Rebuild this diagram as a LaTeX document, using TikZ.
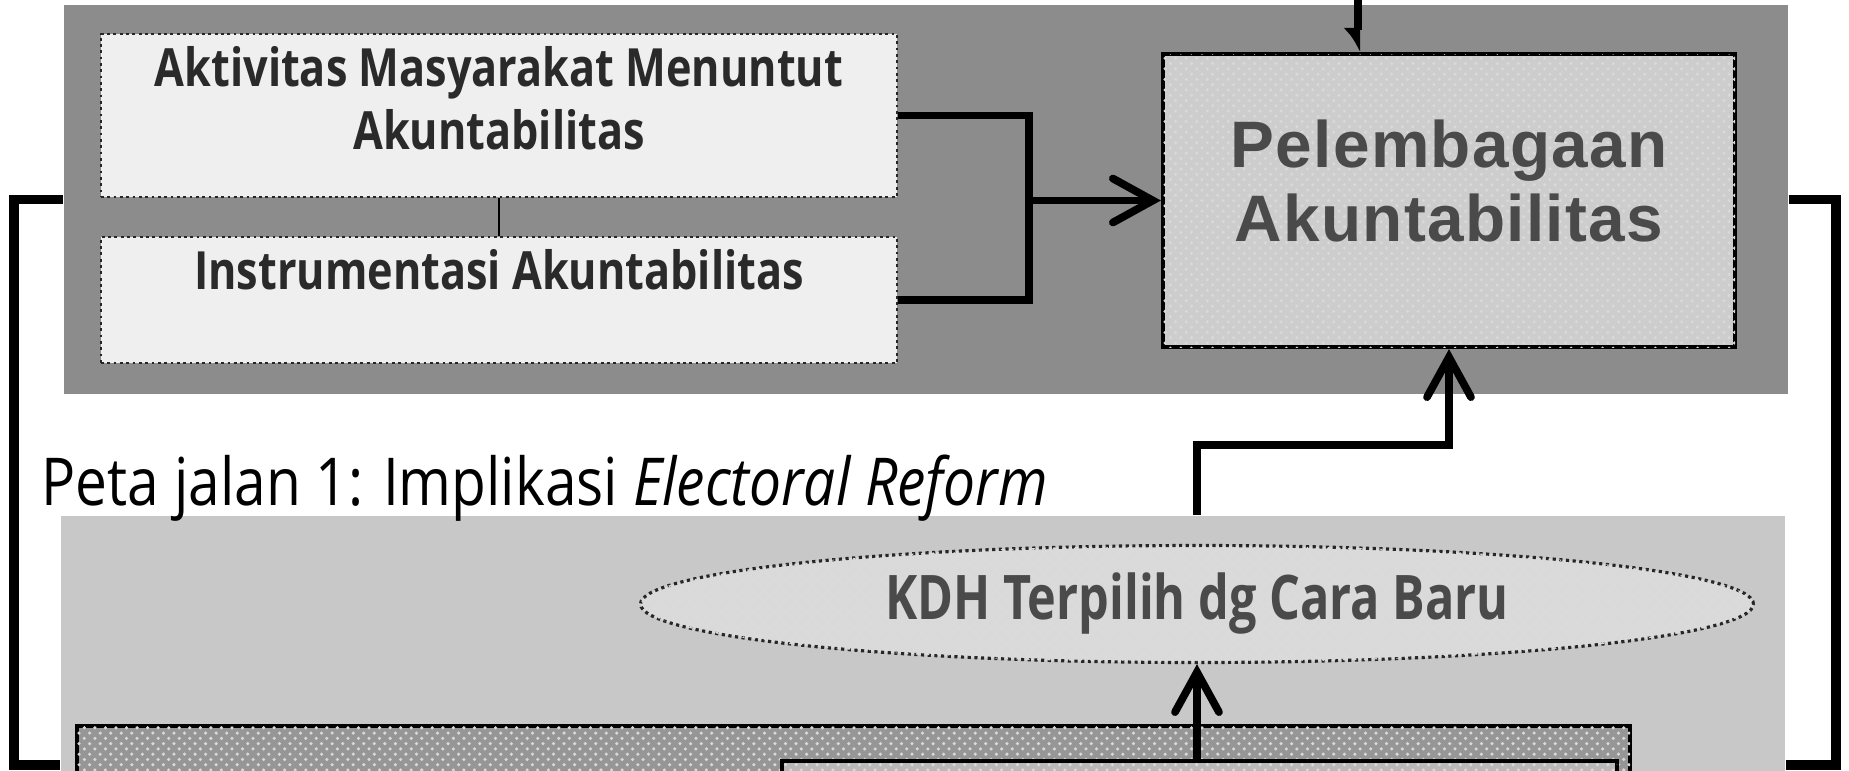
\documentclass[tikz,border=0pt]{standalone}
\usepackage{fontspec}
\setmainfont{Open Sans}
\newfontfamily\condfont[FakeStretch=0.82]{Open Sans}
\newfontfamily\kdhfont[FakeStretch=0.79]{Open Sans}
\newfontfamily\titlefont[FakeStretch=0.86]{Open Sans}
\newfontfamily\arialfont[LetterSpace=2]{Liberation Sans}
\usetikzlibrary{arrows.meta, positioning, shapes.geometric, patterns}
\definecolor{panelDark}{RGB}{140,140,140}
\definecolor{panelLight}{RGB}{200,200,200}
\definecolor{boxLight}{RGB}{239,239,239}
\definecolor{pelFill}{RGB}{205,205,205}
\definecolor{kdhFill}{RGB}{218,218,218}
\definecolor{baseDark}{RGB}{150,150,150}
\definecolor{baseMid}{RGB}{185,185,185}
\definecolor{textDark}{RGB}{42,42,42}
\definecolor{textGray}{RGB}{74,74,74}
\tikzset{
    panel/.style={rectangle, draw=none, inner sep=0pt},
    itembox/.style={rectangle, draw=black!85, densely dotted, line width=0.8pt,
                    fill=boxLight, minimum width=7.96cm, inner sep=0pt},
    itemtext/.style={font=\condfont\bfseries\fontsize{15}{17.9}\selectfont,
                     text=textDark, align=center, inner sep=0pt},
    dotted fill/.style={postaction={pattern=crosshatch dots, pattern color=white!85!black}},
    pelbox/.style={rectangle, draw=black, line width=1.2pt, fill=pelFill, dotted fill,
                   minimum width=5.72cm, minimum height=2.93cm, inner sep=0pt},
    peltext/.style={font=\arialfont\bfseries\fontsize{18.7}{21}\selectfont,
                    text=textGray, align=center, inner sep=0pt},
    kdhnode/.style={ellipse, draw=black!85, densely dotted, line width=0.9pt,
                    fill=kdhFill, dotted fill, minimum width=11.13cm, minimum height=1.17cm,
                    inner sep=0pt, font=\kdhfont\bfseries\fontsize{17.5}{20}\selectfont,
                    text=textGray},
    basebox/.style={rectangle, draw=black, line width=1.4pt, inner sep=0pt, dotted fill},
    flow/.style={-{Straight Barb[length=4mm, width=4.4mm, line cap=round]}, line width=2.2pt, black},
    joint/.style={line width=2.2pt, black},
    loopline/.style={line width=2.8pt, black},
    topin/.style={-{Latex[harpoon, swap, length=2mm, width=3mm]}, line width=2.5pt, black}
}
\begin{document}
\begin{tikzpicture}[x=1cm, y=1cm]
    \useasboundingbox (0,0) rectangle (18.49,-7.70);
    \clip (0,0) rectangle (18.49,-7.70);
    \node[panel, fill=panelDark, minimum width=17.24cm, minimum height=3.89cm] (panelTop) at (9.26,-1.995) {};
    \node[panel, fill=panelLight, minimum width=17.24cm, minimum height=3.84cm] (panelLow) at (9.23,-7.08) {};
    \coordinate (loopL) at (0.14,-7.65);
    \coordinate (loopR) at (18.36,-7.65);
    \draw[loopline] (panelTop.west) -| (loopL) -- (panelLow.west |- loopL);
    \draw[loopline] (panelTop.east) -| (loopR) -- (panelLow.east |- loopR);

    \node[itembox, minimum height=1.63cm] (boxA) at (4.99,-1.155) {};
    \node[itembox, minimum height=1.26cm] (boxB) at (4.99,-3.0) {};
    \node[itemtext] (txtA) at (4.99,-0.985) {Aktivitas Masyarakat Menuntut\\Akuntabilitas};
    \node[itemtext] (txtB) at (4.99,-2.70) {Instrumentasi Akuntabilitas};
    \draw[line width=0.7pt] (boxA.south) -- (boxB.north);

    \node[pelbox] (pel) at (14.49,-2.005) {};
    \node[peltext] (pelTxt) at (14.49,-1.81) {Pelembagaan\\Akuntabilitas};
    \coordinate (join) at (10.29,-2.005);
    \draw[joint] (boxA.east) -| (join) |- (boxB.east);
    \draw[flow] (join) -- (pel.west);
    \coordinate (fromTop) at (13.58,0.1);
    \draw[topin] (fromTop) -- (fromTop |- pel.north);

    \node[anchor=base west, inner sep=0pt, font=\titlefont\fontsize{18.8}{22}\selectfont] (title) at (0.41,-5.05)
        {Peta jalan 1: Implikasi \textit{Electoral Reform}};
    \node[kdhnode] (kdh) at (11.97,-6.04) {KDH Terpilih dg Cara Baru};
    \draw[flow] (kdh |- panelLow.north) -- ++(0,0.70) -| (pel.south);

    \node[basebox, fill=baseDark, minimum width=15.53cm, minimum height=1.74cm] (base1) at (8.535,-8.13) {};
    \node[basebox, fill=baseMid, minimum width=8.35cm, minimum height=1.39cm] (base2) at (11.995,-8.305) {};
    \draw[flow] (kdh.south |- base2.north) -- (kdh.south);
\end{tikzpicture}
\end{document}
